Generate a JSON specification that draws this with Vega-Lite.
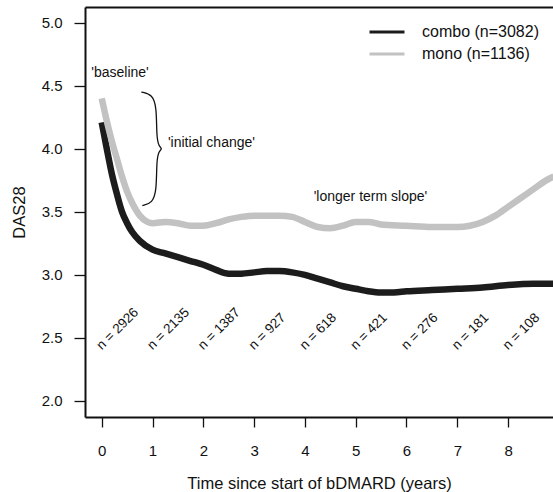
{
  "$schema": "https://vega.github.io/schema/vega-lite/v6.json",
  "autosize": {"type": "none"},
  "padding": {"left": 85, "top": 7, "right": 0, "bottom": 75},
  "width": 468,
  "height": 410,
  "background": "white",
  "config": {
    "font": "Liberation Sans",
    "view": {"stroke": null},
    "axis": {"titleFontWeight": "normal", "titleColor": "#111", "labelColor": "#111", "domainColor": "#111", "tickColor": "#111", "grid": false}
  },
  "datasets": {
    "curves": [
      {"group": "combo (n=3082)", "t": 0, "v": 4.21},
      {"group": "combo (n=3082)", "t": 0.1, "v": 4.0},
      {"group": "combo (n=3082)", "t": 0.2, "v": 3.8},
      {"group": "combo (n=3082)", "t": 0.3, "v": 3.64},
      {"group": "combo (n=3082)", "t": 0.4, "v": 3.5},
      {"group": "combo (n=3082)", "t": 0.5, "v": 3.41},
      {"group": "combo (n=3082)", "t": 0.6, "v": 3.34},
      {"group": "combo (n=3082)", "t": 0.75, "v": 3.27},
      {"group": "combo (n=3082)", "t": 1.0, "v": 3.2},
      {"group": "combo (n=3082)", "t": 1.25, "v": 3.17},
      {"group": "combo (n=3082)", "t": 1.5, "v": 3.14},
      {"group": "combo (n=3082)", "t": 1.75, "v": 3.11},
      {"group": "combo (n=3082)", "t": 2.0, "v": 3.08},
      {"group": "combo (n=3082)", "t": 2.25, "v": 3.04},
      {"group": "combo (n=3082)", "t": 2.5, "v": 3.01},
      {"group": "combo (n=3082)", "t": 2.75, "v": 3.01},
      {"group": "combo (n=3082)", "t": 3.0, "v": 3.02},
      {"group": "combo (n=3082)", "t": 3.25, "v": 3.03},
      {"group": "combo (n=3082)", "t": 3.5, "v": 3.03},
      {"group": "combo (n=3082)", "t": 3.75, "v": 3.02},
      {"group": "combo (n=3082)", "t": 4.0, "v": 3.0},
      {"group": "combo (n=3082)", "t": 4.25, "v": 2.97},
      {"group": "combo (n=3082)", "t": 4.5, "v": 2.94},
      {"group": "combo (n=3082)", "t": 4.75, "v": 2.91},
      {"group": "combo (n=3082)", "t": 5.0, "v": 2.89},
      {"group": "combo (n=3082)", "t": 5.25, "v": 2.87},
      {"group": "combo (n=3082)", "t": 5.5, "v": 2.86},
      {"group": "combo (n=3082)", "t": 5.75, "v": 2.86},
      {"group": "combo (n=3082)", "t": 6.0, "v": 2.87},
      {"group": "combo (n=3082)", "t": 6.5, "v": 2.88},
      {"group": "combo (n=3082)", "t": 7.0, "v": 2.89},
      {"group": "combo (n=3082)", "t": 7.5, "v": 2.9},
      {"group": "combo (n=3082)", "t": 8.0, "v": 2.92},
      {"group": "combo (n=3082)", "t": 8.5, "v": 2.93},
      {"group": "combo (n=3082)", "t": 8.9, "v": 2.93},
      {"group": "mono (n=1136)", "t": 0, "v": 4.4},
      {"group": "mono (n=1136)", "t": 0.1, "v": 4.22},
      {"group": "mono (n=1136)", "t": 0.2, "v": 4.06},
      {"group": "mono (n=1136)", "t": 0.3, "v": 3.92},
      {"group": "mono (n=1136)", "t": 0.4, "v": 3.78},
      {"group": "mono (n=1136)", "t": 0.5, "v": 3.66},
      {"group": "mono (n=1136)", "t": 0.6, "v": 3.57},
      {"group": "mono (n=1136)", "t": 0.75, "v": 3.47},
      {"group": "mono (n=1136)", "t": 0.9, "v": 3.42},
      {"group": "mono (n=1136)", "t": 1.0, "v": 3.41},
      {"group": "mono (n=1136)", "t": 1.25, "v": 3.42},
      {"group": "mono (n=1136)", "t": 1.5, "v": 3.41},
      {"group": "mono (n=1136)", "t": 1.75, "v": 3.39},
      {"group": "mono (n=1136)", "t": 2.0, "v": 3.39},
      {"group": "mono (n=1136)", "t": 2.25, "v": 3.41},
      {"group": "mono (n=1136)", "t": 2.5, "v": 3.44},
      {"group": "mono (n=1136)", "t": 2.75, "v": 3.46},
      {"group": "mono (n=1136)", "t": 3.0, "v": 3.47},
      {"group": "mono (n=1136)", "t": 3.5, "v": 3.47},
      {"group": "mono (n=1136)", "t": 3.75, "v": 3.46},
      {"group": "mono (n=1136)", "t": 4.0, "v": 3.42},
      {"group": "mono (n=1136)", "t": 4.25, "v": 3.38},
      {"group": "mono (n=1136)", "t": 4.5, "v": 3.37},
      {"group": "mono (n=1136)", "t": 4.75, "v": 3.39},
      {"group": "mono (n=1136)", "t": 5.0, "v": 3.42},
      {"group": "mono (n=1136)", "t": 5.25, "v": 3.42},
      {"group": "mono (n=1136)", "t": 5.5, "v": 3.4},
      {"group": "mono (n=1136)", "t": 6.0, "v": 3.39},
      {"group": "mono (n=1136)", "t": 6.5, "v": 3.38},
      {"group": "mono (n=1136)", "t": 7.0, "v": 3.38},
      {"group": "mono (n=1136)", "t": 7.25, "v": 3.39},
      {"group": "mono (n=1136)", "t": 7.5, "v": 3.42},
      {"group": "mono (n=1136)", "t": 7.75, "v": 3.47},
      {"group": "mono (n=1136)", "t": 8.0, "v": 3.54},
      {"group": "mono (n=1136)", "t": 8.25, "v": 3.61},
      {"group": "mono (n=1136)", "t": 8.5, "v": 3.68},
      {"group": "mono (n=1136)", "t": 8.75, "v": 3.75},
      {"group": "mono (n=1136)", "t": 8.9, "v": 3.78}
    ],
    "brace": [
      {"i": 1, "t": 0.78, "v": 4.45},
      {"i": 2, "t": 1.0, "v": 4.43},
      {"i": 3, "t": 1.08, "v": 4.33},
      {"i": 4, "t": 1.08, "v": 4.1},
      {"i": 5, "t": 1.12, "v": 4.02},
      {"i": 6, "t": 1.2, "v": 4.0},
      {"i": 7, "t": 1.12, "v": 3.98},
      {"i": 8, "t": 1.08, "v": 3.9},
      {"i": 9, "t": 1.08, "v": 3.67},
      {"i": 10, "t": 1.0, "v": 3.57},
      {"i": 11, "t": 0.8, "v": 3.55}
    ],
    "notes": [
      {"label": "'baseline'", "t": 0.36, "v": 4.6},
      {"label": "'initial change'", "t": 2.16, "v": 4.045},
      {"label": "'longer term slope'", "t": 5.29, "v": 3.62}
    ],
    "counts": [
      {"label": "n = 2926", "t": 0, "v": 2.4},
      {"label": "n = 2135", "t": 1, "v": 2.4},
      {"label": "n = 1387", "t": 2, "v": 2.4},
      {"label": "n = 927", "t": 3, "v": 2.4},
      {"label": "n = 618", "t": 4, "v": 2.4},
      {"label": "n = 421", "t": 5, "v": 2.4},
      {"label": "n = 276", "t": 6, "v": 2.4},
      {"label": "n = 181", "t": 7, "v": 2.4},
      {"label": "n = 108", "t": 8, "v": 2.4}
    ]
  },
  "resolve": {"axis": {"x": "independent"}},
  "layer": [
    {
      "data": {"name": "curves"},
      "mark": {"type": "line", "interpolate": "monotone", "strokeWidth": 6.5, "clip": true, "strokeCap": "butt"},
      "encoding": {
        "x": {"field": "t", "type": "quantitative", "scale": {"domain": [-0.329, 8.884], "nice": false, "zero": false},
          "axis": {"orient": "bottom", "values": [0, 1, 2, 3, 4, 5, 6, 7, 8], "title": "Time since start of bDMARD (years)", "labelFontSize": 15, "titleFontSize": 16.5, "tickSize": 10, "tickWidth": 1.3, "domainWidth": 2, "labelPadding": 16, "titlePadding": 17, "offset": 0}},
        "y": {"field": "v", "type": "quantitative", "scale": {"domain": [1.873, 5.1245], "nice": false, "zero": false},
          "axis": {"values": [2, 2.5, 3, 3.5, 4, 4.5, 5], "format": ".1f", "title": "DAS28", "labelFontSize": 15, "titleFontSize": 16.5, "tickSize": 11, "tickWidth": 1.3, "domainWidth": 2, "labelPadding": 12, "titlePadding": 14}},
        "color": {"field": "group", "type": "nominal",
          "scale": {"domain": ["combo (n=3082)", "mono (n=1136)"], "range": ["#1c1c1c", "#c2c2c2"]},
          "legend": {"orient": "none", "legendX": 294, "legendY": 17, "title": null, "symbolType": "M-3,0H3", "symbolSize": 136, "symbolStrokeWidth": 3, "labelFontSize": 16, "labelOffset": 27, "rowPadding": 6, "labelColor": "#111"}}
      }
    },
    {
      "data": {"name": "brace"},
      "mark": {"type": "line", "interpolate": "basis", "strokeWidth": 1.3, "color": "#111"},
      "encoding": {
        "x": {"field": "t", "type": "quantitative", "axis": {"orient": "top", "title": null, "labels": false, "ticks": false, "domainWidth": 2, "values": [0]}},
        "y": {"field": "v", "type": "quantitative"},
        "order": {"field": "i", "type": "quantitative"}
      }
    },
    {
      "data": {"name": "notes"},
      "mark": {"type": "text", "fontSize": 14, "color": "#111", "align": "center", "baseline": "middle"},
      "encoding": {
        "x": {"field": "t", "type": "quantitative", "axis": null},
        "y": {"field": "v", "type": "quantitative"},
        "text": {"field": "label"}
      }
    },
    {
      "data": {"name": "counts"},
      "mark": {"type": "text", "fontSize": 13.5, "color": "#111", "align": "left", "baseline": "alphabetic", "angle": -45},
      "encoding": {
        "x": {"field": "t", "type": "quantitative", "axis": null},
        "y": {"field": "v", "type": "quantitative"},
        "text": {"field": "label"}
      }
    }
  ]
}
